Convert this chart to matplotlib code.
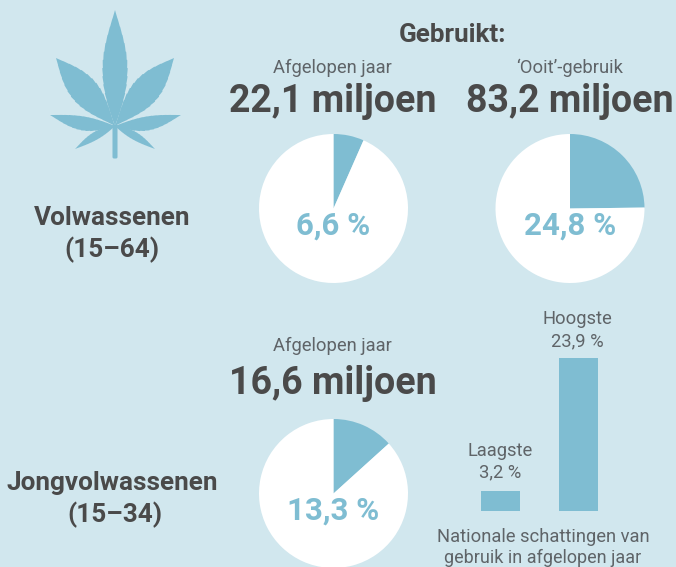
import matplotlib
matplotlib.use("Agg")
import matplotlib.pyplot as plt
from matplotlib.patches import Polygon, FancyBboxPatch
import numpy as np

W, H = 676, 567
BG = "#d1e7ee"
BLUE = "#7fbdd2"
DARK = "#4a4a4a"
GREY = "#5f6468"

# data
pie_adults_year = 6.6
pie_adults_ever = 24.8
pie_young_year = 13.3
bar_labels = ["Laagste", "Hoogste"]
bar_values = [3.2, 23.9]

plt.rcParams["font.family"] = ["Roboto", "DejaVu Sans"]

fig = plt.figure(figsize=(W / 100, H / 100), dpi=100, facecolor=BG)


def px_axes(x0, y0, x1, y1):
    # box given in pixels, measured from the top left
    return fig.add_axes([x0 / W, 1 - y1 / H, (x1 - x0) / W, (y1 - y0) / H])


def txt(x, y, s, size, color=GREY, weight="normal"):
    fig.text(x / W, 1 - y / H, s, fontsize=size, color=color, fontweight=weight,
             ha="center", va="center")


def pie(cx, cy, r, value, label):
    ax = px_axes(cx - r, cy - r, cx + r, cy + r)
    ax.pie([value, 100 - value], colors=[BLUE, "white"], startangle=90,
           counterclock=False, radius=1)
    ax.set_xlim(-1, 1)
    ax.set_ylim(-1, 1)
    ax.text(0, -0.23, label, fontsize=22.5, fontweight="bold", color=BLUE,
            ha="center", va="center")


pie(333.5, 208.5, 74.5, pie_adults_year, "6,6 %")
pie(570, 208.5, 74.5, pie_adults_ever, "24,8 %")
pie(333.5, 493.5, 74.5, pie_young_year, "13,3 %")

# bars
ax = px_axes(461, 358, 618, 511)
ax.bar([0, 1], bar_values, width=0.5, color=BLUE)
ax.set_xlim(-0.5, 1.5)
ax.set_ylim(0, 23.9)
ax.axis("off")

# leaf icon
leaf = fig.add_axes([0, 0, 1, 1])
leaf.set_xlim(0, W)
leaf.set_ylim(H, 0)
leaf.axis("off")
leaf.patch.set_alpha(0)


def leaflet(tip_x, tip_y, width, power=1.0, upper=0.5):
    # one blade from the leaf centre to its tip, with a slightly toothed edge
    o = np.array([115.0, 126.0])
    d = np.array([tip_x, tip_y]) - o
    n = np.array([-d[1], d[0]]) / np.hypot(*d)
    t = np.linspace(0, 1, 200)
    w = width * np.sin(np.pi * t ** power) ** 1.05 * (0.97 + 0.05 * ((t * 14) % 1))
    a = o + np.outer(t, d) + np.outer(w * upper, n)
    b = o + np.outer(t, d) - np.outer(w * (1 - upper), n)
    leaf.add_patch(Polygon(np.vstack([a, b[::-1]]), closed=True, fc=BLUE, ec="none"))


leaflet(115, 10, 25, 0.95)
leaflet(56, 58, 28, 1.05)
leaflet(174, 58, 28, 1.05)
leaflet(50, 115, 14, 0.95, 0.3)
leaflet(181, 115, 14, 0.95, 0.7)
leaflet(75, 149, 8, 0.9, 0.65)
leaflet(155, 149, 8, 0.9, 0.35)
leaf.add_patch(FancyBboxPatch((114, 126), 2, 31, boxstyle="round,pad=1.5", fc=BLUE, ec="none"))

# text
txt(452, 35, "Gebruikt:", 18.8, DARK, "bold")
txt(332, 68, "Afgelopen jaar", 13.2)
txt(570, 68, "‘Ooit’-gebruik", 13.2)
txt(333, 102, "22,1 miljoen", 27, DARK, "bold")
txt(570, 102, "83,2 miljoen", 27, DARK, "bold")
txt(112, 218, "Volwassenen", 18.8, DARK, "bold")
txt(112, 250, "(15–64)", 18.8, DARK, "bold")
txt(332, 346, "Afgelopen jaar", 13.2)
txt(333, 383, "16,6 miljoen", 27, DARK, "bold")
txt(112, 483, "Jongvolwassenen", 18.8, DARK, "bold")
txt(115, 515, "(15–34)", 18.8, DARK, "bold")
txt(500, 451, bar_labels[0], 13.2)
txt(500, 472, "3,2 %", 13.2)
txt(577, 319, bar_labels[1], 13.2)
txt(577, 341, "23,9 %", 13.2)
txt(543, 537, "Nationale schattingen van", 13.2)
txt(543, 558, "gebruik in afgelopen jaar", 13)

fig.savefig("out.png", dpi=100, facecolor=BG)
